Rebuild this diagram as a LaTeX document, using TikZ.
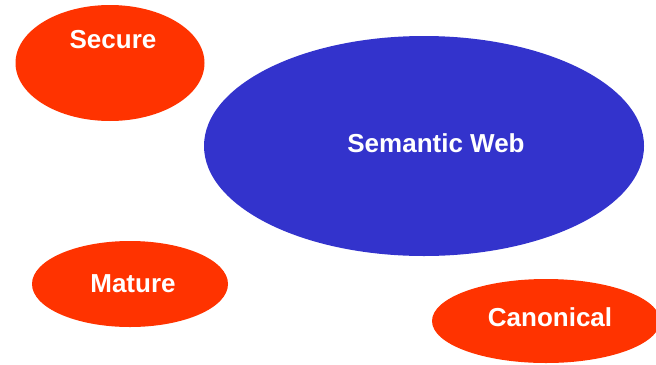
\documentclass[tikz,border=0pt]{standalone}
\usepackage{fontspec}
\setmainfont{Liberation Sans}
\usetikzlibrary{shapes, positioning}

\definecolor{blobred}{HTML}{FF3300}
\definecolor{blobblue}{HTML}{3333CC}

\begin{document}
\begin{tikzpicture}[x=0.5pt,y=-0.5pt]
	\tikzset{blob/.style={ellipse, inner sep=0pt, draw=none, fill=blobred},
		lbl/.style={text=white, font=\fontsize{13}{15}\selectfont\bfseries, inner sep=0pt}}
	\useasboundingbox (0,0) rectangle (656,364);
	\clip (0,0) rectangle (656,364);
	\node[blob, minimum width=94.5pt, minimum height=58pt] (secure) at (110,63) {};
	\node[blob, fill=blobblue, minimum width=220pt, minimum height=110pt] (semweb) at (424,146) {};
	\node[blob, minimum width=98pt, minimum height=43pt] (mature) at (130,284) {};
	\node[blob, minimum width=114pt, minimum height=42pt] (canon) at (546,321) {};
	\node[lbl] (securetxt) at (113,40) {Secure};
	\node[lbl] (semwebtxt) at (436,143) {Semantic Web};
	\node[lbl] (maturetxt) at (133,284) {Mature};
	\node[lbl] (canontxt) at (550,317) {Canonical};
\end{tikzpicture}
\end{document}
